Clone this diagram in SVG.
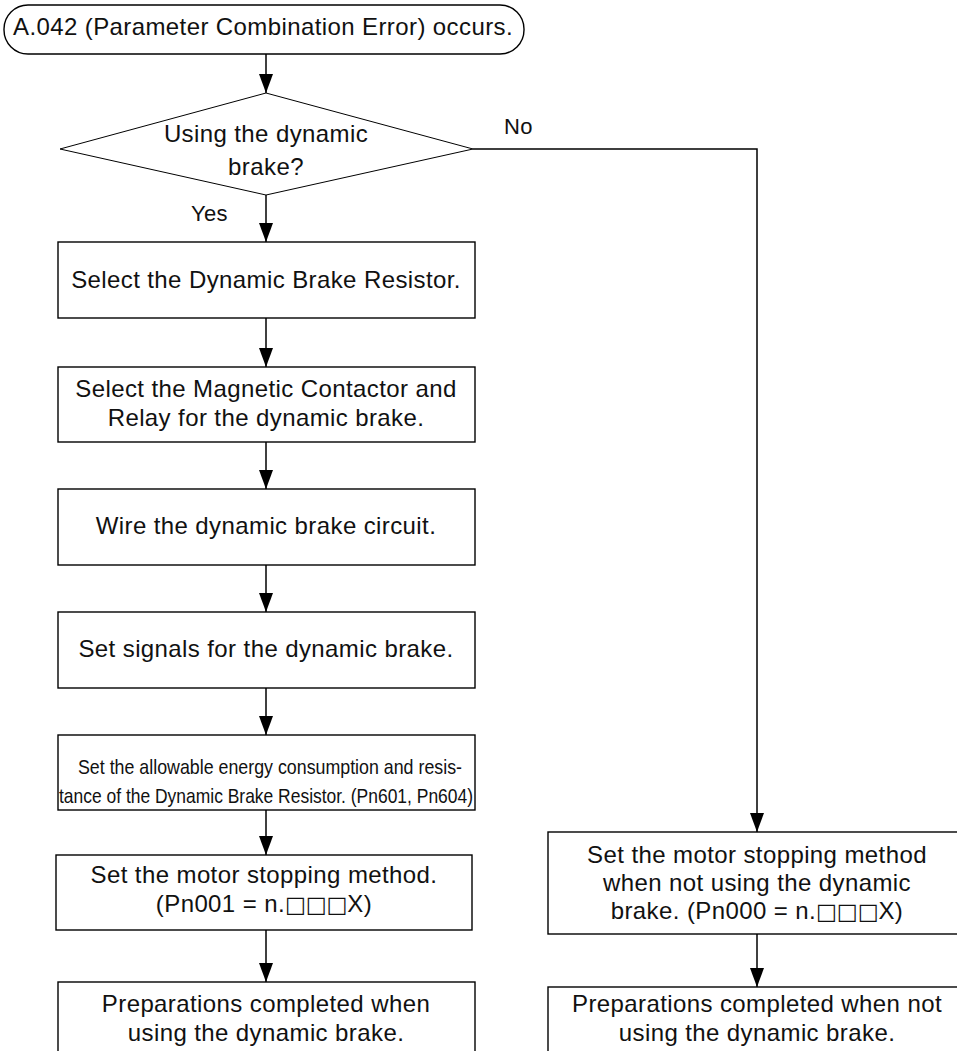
<svg xmlns="http://www.w3.org/2000/svg" width="957" height="1051" viewBox="0 0 957 1051">
<style>
.box{fill:#fff;stroke:#000;stroke-width:1.4}
.dia{fill:#fff;stroke:#000;stroke-width:1}
.t{font-family:"Liberation Sans",Arial,Helvetica,sans-serif;font-size:24px;fill:#111;text-anchor:middle;letter-spacing:0.4px}
.sq{font-family:"DejaVu Sans",sans-serif;font-size:22px;letter-spacing:0}
.lbl{font-family:"Liberation Sans",Arial,Helvetica,sans-serif;font-size:22px;fill:#111;letter-spacing:0.3px}
.nar{font-family:"Liberation Sans",Arial,Helvetica,sans-serif;font-size:21px;fill:#111;text-anchor:middle}
.c{fill:none;stroke:#000;stroke-width:1.5}
</style>
<defs>
<marker id="arr" markerUnits="userSpaceOnUse" markerWidth="19" markerHeight="14" refX="19" refY="7" orient="auto" viewBox="0 0 19 14">
<path d="M0,0 L19,7 L0,14 z" fill="#000"/>
</marker>
</defs>
<rect width="957" height="1051" fill="#fff"/>
<g id="connectors">
<line class="c" x1="266" y1="54" x2="266" y2="93" marker-end="url(#arr)"/>
<line class="c" x1="266" y1="195" x2="266" y2="242" marker-end="url(#arr)"/>
<line class="c" x1="266" y1="318" x2="266" y2="367" marker-end="url(#arr)"/>
<line class="c" x1="266" y1="442" x2="266" y2="489" marker-end="url(#arr)"/>
<line class="c" x1="266" y1="565" x2="266" y2="612" marker-end="url(#arr)"/>
<line class="c" x1="266" y1="688" x2="266" y2="735" marker-end="url(#arr)"/>
<line class="c" x1="266" y1="810" x2="266" y2="855" marker-end="url(#arr)"/>
<line class="c" x1="266" y1="930" x2="266" y2="982" marker-end="url(#arr)"/>
<polyline class="c" points="473,149 757,149 757,832" marker-end="url(#arr)"/>
<line class="c" x1="757" y1="934" x2="757" y2="987" marker-end="url(#arr)"/>
<text class="lbl" x="191" y="221">Yes</text>
<text class="lbl" x="504" y="134">No</text>
</g>
<g id="start">
<rect class="box" x="4" y="5" width="520" height="49" rx="24" ry="24"/>
<text class="t" x="263" y="35">A.042 (Parameter Combination Error) occurs.</text>
</g>
<g id="decision">
<polygon class="dia" points="266,93 473,149 266,195 60,149"/>
<text class="t" x="266" y="142">Using the dynamic</text>
<text class="t" x="266" y="175">brake?</text>
</g>
<g id="box1">
<rect class="box" x="58" y="242" width="417" height="76"/>
<text class="t" x="266" y="288">Select the Dynamic Brake Resistor.</text>
</g>
<g id="box2">
<rect class="box" x="58" y="367" width="417" height="75"/>
<text class="t" x="266" y="397">Select the Magnetic Contactor and</text>
<text class="t" x="266" y="426">Relay for the dynamic brake.</text>
</g>
<g id="box3">
<rect class="box" x="58" y="489" width="417" height="76"/>
<text class="t" x="266" y="534">Wire the dynamic brake circuit.</text>
</g>
<g id="box4">
<rect class="box" x="58" y="612" width="417" height="76"/>
<text class="t" x="266" y="657">Set signals for the dynamic brake.</text>
</g>
<g id="box5">
<rect class="box" x="58" y="735" width="417" height="75"/>
<text class="nar" x="270" y="774" textLength="384" lengthAdjust="spacingAndGlyphs">Set the allowable energy consumption and resis-</text>
<text class="nar" x="266" y="803" textLength="414" lengthAdjust="spacingAndGlyphs">tance of the Dynamic Brake Resistor. (Pn601, Pn604)</text>
</g>
<g id="box6">
<rect class="box" x="56" y="855" width="416" height="75"/>
<text class="t" x="264" y="883">Set the motor stopping method.</text>
<text class="t" x="264" y="912">(Pn001 = n.<tspan class="sq">□□□</tspan>X)</text>
</g>
<g id="box7">
<rect class="box" x="58" y="982" width="417" height="100"/>
<text class="t" x="266" y="1012">Preparations completed when</text>
<text class="t" x="266" y="1041">using the dynamic brake.</text>
</g>
<g id="boxR1">
<rect class="box" x="548" y="832" width="430" height="102"/>
<text class="t" x="757" y="863">Set the motor stopping method</text>
<text class="t" x="757" y="891">when not using the dynamic</text>
<text class="t" x="757" y="919">brake. (Pn000 = n.<tspan class="sq">□□□</tspan>X)</text>
</g>
<g id="boxR2">
<rect class="box" x="548" y="987" width="430" height="100"/>
<text class="t" x="757" y="1012">Preparations completed when not</text>
<text class="t" x="757" y="1041">using the dynamic brake.</text>
</g>
</svg>
